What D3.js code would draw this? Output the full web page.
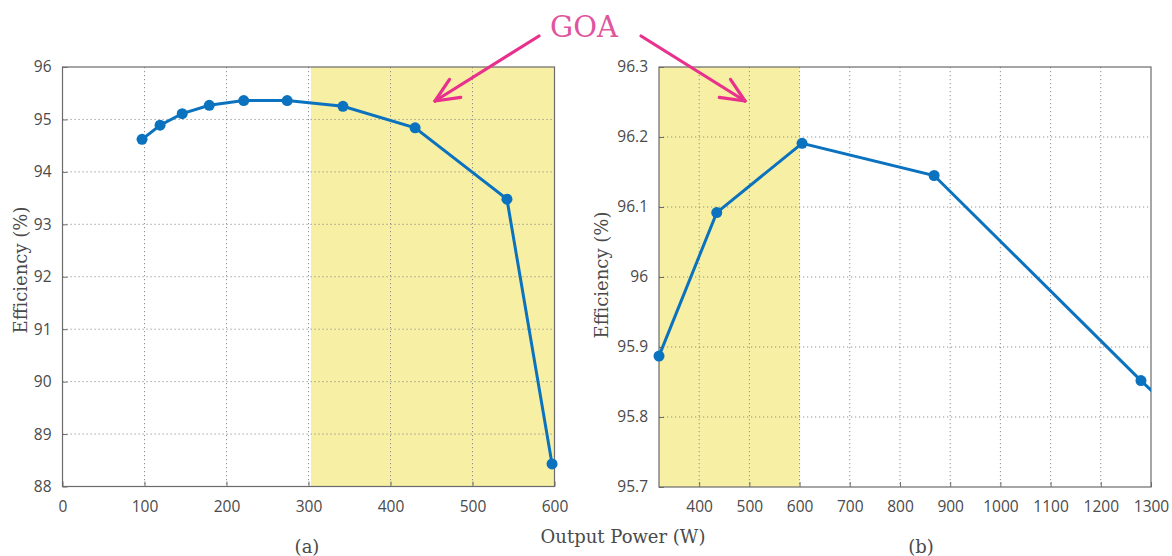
<!DOCTYPE html>
<html>
<head>
<meta charset="utf-8">
<script src="https://cdn.jsdelivr.net/npm/d3@7"></script>
<style>
  body { margin: 0; background: #fff; }
  svg { display: block; }
</style>
</head>
<body>
<div id="chart"></div>
<script>
// panel (a) data
const powerA = [97, 119, 146, 179, 221, 274, 342, 430, 542, 597];
const effA = [94.62, 94.89, 95.11, 95.27, 95.36, 95.36, 95.25, 94.84, 93.48, 88.43];
const ticksXA = [0, 100, 200, 300, 400, 500, 600];
const ticksYA = [88, 89, 90, 91, 92, 93, 94, 95, 96];
const goaA = [303, 600];

// panel (b) data
const powerB = [320, 435, 605, 868, 1280, 1400];
const effB = [95.887, 96.092, 96.191, 96.145, 95.852, 95.77];
const ticksXB = [400, 500, 600, 700, 800, 900, 1000, 1100, 1200, 1300];
const ticksYB = [95.7, 95.8, 95.9, 96, 96.1, 96.2, 96.3];
const goaB = [320, 600];

const W = 1172, H = 556;
const lineColor = "#0a72be";
const tickFont = "'Open Sans', sans-serif";
const serif = "'DejaVu Serif', serif";

const svg = d3.select("#chart").append("svg")
  .attr("width", W).attr("height", H);

const defs = svg.append("defs");

function panel(id, box, xDomain, yDomain, xs, ys, xTicks, yTicks, goa, yFmt) {
  const x = d3.scaleLinear().domain(xDomain).range([box.x0, box.x1]);
  const y = d3.scaleLinear().domain(yDomain).range([box.y1, box.y0]);

  defs.append("clipPath").attr("id", id)
    .append("rect")
    .attr("x", box.x0).attr("y", box.y0)
    .attr("width", box.x1 - box.x0).attr("height", box.y1 - box.y0);

  const g = svg.append("g");

  // GOA band
  g.append("rect")
    .attr("x", x(goa[0])).attr("y", box.y0)
    .attr("width", x(goa[1]) - x(goa[0]))
    .attr("height", box.y1 - box.y0)
    .attr("fill", "#f6efa4");

  // dotted grid
  g.append("g").selectAll("line")
    .data(xTicks.filter(t => t > xDomain[0] && t < xDomain[1]))
    .join("line")
    .attr("x1", d => x(d)).attr("x2", d => x(d))
    .attr("y1", box.y0).attr("y2", box.y1)
    .attr("stroke", "#8f8f8f").attr("stroke-width", 1)
    .attr("stroke-dasharray", "1.2,2.8");
  g.append("g").selectAll("line")
    .data(yTicks.filter(t => t > yDomain[0] && t < yDomain[1]))
    .join("line")
    .attr("x1", box.x0).attr("x2", box.x1)
    .attr("y1", d => y(d)).attr("y2", d => y(d))
    .attr("stroke", "#8f8f8f").attr("stroke-width", 1)
    .attr("stroke-dasharray", "1.2,2.8");

  // axes (ticks pointing inward, like matlab)
  const ax = g.append("g")
    .attr("transform", `translate(0,${box.y1})`)
    .call(d3.axisBottom(x).tickValues(xTicks).tickFormat(d3.format("d"))
      .tickSizeInner(-5).tickSizeOuter(0).tickPadding(14));
  const ay = g.append("g")
    .attr("transform", `translate(${box.x0},0)`)
    .call(d3.axisLeft(y).tickValues(yTicks).tickFormat(yFmt)
      .tickSizeInner(-5).tickSizeOuter(0).tickPadding(11));
  [ax, ay].forEach(a => {
    a.select(".domain").remove();
    a.selectAll(".tick line").attr("stroke", "#6b6b6b");
    a.selectAll("text")
      .attr("fill", "#4a4a4a")
      .style("font-size", "15.5px")
      .style("font-family", tickFont);
  });

  // box
  g.append("rect")
    .attr("x", box.x0).attr("y", box.y0)
    .attr("width", box.x1 - box.x0).attr("height", box.y1 - box.y0)
    .attr("fill", "none").attr("stroke", "#6b6b6b").attr("stroke-width", 1.2);

  // efficiency curve
  const pts = xs.map((v, i) => [v, ys[i]]);
  const plot = g.append("g").attr("clip-path", `url(#${id})`);
  plot.append("path")
    .datum(pts)
    .attr("d", d3.line().x(d => x(d[0])).y(d => y(d[1])))
    .attr("fill", "none").attr("stroke", lineColor).attr("stroke-width", 3);
  g.append("g").selectAll("circle")
    .data(pts.filter(d => d[0] <= xDomain[1]))
    .join("circle")
    .attr("cx", d => x(d[0])).attr("cy", d => y(d[1]))
    .attr("r", 5.5).attr("fill", lineColor);

  return { x, y };
}

panel("clipA", { x0: 62.5, x1: 554.5, y0: 67, y1: 486.5 },
  [0, 600], [88, 96], powerA, effA, ticksXA, ticksYA, goaA, d3.format("d"));
panel("clipB", { x0: 659, x1: 1151, y0: 67, y1: 487 },
  [320, 1300], [95.7, 96.3], powerB, effB, ticksXB, ticksYB, goaB, d => (d === 96 ? "96" : d3.format(".1f")(d)));

// axis titles
svg.append("text")
  .attr("transform", "translate(27,270) rotate(-90)")
  .attr("text-anchor", "middle")
  .style("font-family", serif).style("font-size", "18px").attr("fill", "#4a4a4a")
  .text("Efficiency (%)");
svg.append("text")
  .attr("transform", "translate(608,275) rotate(-90)")
  .attr("text-anchor", "middle")
  .style("font-family", serif).style("font-size", "18px").attr("fill", "#4a4a4a")
  .text("Efficiency (%)");
svg.append("text")
  .attr("x", 623).attr("y", 543)
  .attr("text-anchor", "middle")
  .style("font-family", serif).style("font-size", "18px").attr("fill", "#4a4a4a")
  .text("Output Power (W)");
svg.append("text")
  .attr("x", 307).attr("y", 553)
  .attr("text-anchor", "middle")
  .style("font-family", serif).style("font-size", "18px").attr("fill", "#4a4a4a")
  .text("(a)");
svg.append("text")
  .attr("x", 921).attr("y", 553)
  .attr("text-anchor", "middle")
  .style("font-family", serif).style("font-size", "18px").attr("fill", "#4a4a4a")
  .text("(b)");

// GOA annotation
const pink = "#e8308c";
svg.append("text")
  .attr("x", 584).attr("y", 37)
  .attr("text-anchor", "middle")
  .style("font-family", serif).style("font-size", "29px").attr("fill", "#e0559e")
  .text("GOA");

function arrow(x1, y1, x2, y2) {
  const a = Math.atan2(y2 - y1, x2 - x1);
  const len = 26, spread = 0.42;
  const g = svg.append("g").attr("stroke", pink).attr("stroke-width", 3.2)
    .attr("stroke-linecap", "round").attr("fill", "none");
  g.append("line").attr("x1", x1).attr("y1", y1).attr("x2", x2).attr("y2", y2);
  [a + spread, a - spread].forEach(b => {
    g.append("line")
      .attr("x1", x2).attr("y1", y2)
      .attr("x2", x2 - len * Math.cos(b)).attr("y2", y2 - len * Math.sin(b));
  });
}
arrow(539, 36, 435, 101);
arrow(641, 36, 745, 101);
</script>
</body>
</html>
